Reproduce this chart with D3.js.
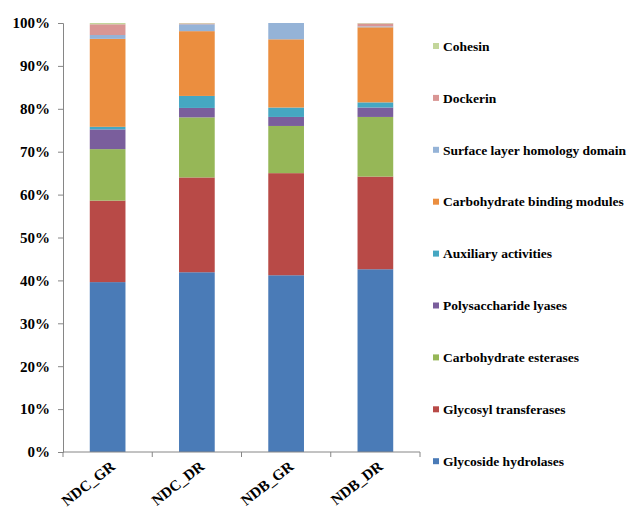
<!DOCTYPE html>
<html>
<head>
<meta charset="utf-8">
<script src="https://cdn.jsdelivr.net/npm/d3@7"></script>
<style>
  body { margin: 0; background: #fff; }
  text { font-family: "Liberation Serif", "Times New Roman", serif; font-weight: bold; fill: #000; }
</style>
</head>
<body>
<div id="chart"></div>
<script>
// Data
const samples = ['NDC_GR', 'NDC_DR', 'NDB_GR', 'NDB_DR']
const families = [
  'Glycoside hydrolases',
  'Glycosyl transferases',
  'Carbohydrate esterases',
  'Polysaccharide lyases',
  'Auxiliary activities',
  'Carbohydrate binding modules',
  'Surface layer homology domain',
  'Dockerin',
  'Cohesin',
]
// percent per family, in sample order
const glycosideHydrolases = [39.6, 41.9, 41.2, 42.6]
const glycosylTransferases = [19.0, 22.1, 23.8, 21.6]
const carbohydrateEsterases = [12.0, 14.0, 11.0, 13.9]
const polysaccharideLyases = [4.6, 2.2, 2.1, 2.2]
const auxiliaryActivities = [0.6, 2.8, 2.2, 1.2]
const carbohydrateBindingModules = [20.5, 15.1, 15.9, 17.5]
const surfaceLayerHomology = [0.9, 1.6, 3.8, 0.2]
const dockerin = [2.5, 0.2, 0.0, 0.7]
const cohesin = [0.3, 0.1, 0.0, 0.1]
const yTicks = [0, 10, 20, 30, 40, 50, 60, 70, 80, 90, 100]

const colors = ['#4A7BB7', '#B84A47', '#96B757', '#7A5E9C', '#45A7C2', '#EB8E3F', '#95B3D7', '#D99694', '#C3D69B']

const seriesValues = [
  glycosideHydrolases, glycosylTransferases, carbohydrateEsterases, polysaccharideLyases,
  auxiliaryActivities, carbohydrateBindingModules, surfaceLayerHomology, dockerin, cohesin,
]
const table = samples.map((s, i) => {
  const row = { sample: s }
  families.forEach((f, j) => { row[f] = seriesValues[j][i] })
  return row
})

// Dimensions
const dimensions = {
  width: 630,
  height: 511,
  margins: { left: 63, top: 23, right: 210, bottom: 59 },
}
const ctrW = dimensions.width - dimensions.margins.left - dimensions.margins.right
const ctrH = dimensions.height - dimensions.margins.top - dimensions.margins.bottom

// Scales
const xScale = d3.scaleBand().domain(samples).range([0, ctrW]).paddingInner(0.6).paddingOuter(0.3)
const yScale = d3.scaleLinear().domain([0, 100]).range([ctrH, 0])
const color = d3.scaleOrdinal().domain(families).range(colors)

const stacked = d3.stack().keys(families)(table)

const svg = d3.select('#chart').append('svg')
  .attr('width', dimensions.width)
  .attr('height', dimensions.height)

const ctr = svg.append('g')
  .attr('transform', `translate(${dimensions.margins.left}, ${dimensions.margins.top})`)

// bars
ctr.selectAll('g.layer')
  .data(stacked)
  .join('g')
  .attr('class', 'layer')
  .attr('fill', (d) => color(d.key))
  .selectAll('rect')
  .data((d) => d)
  .join('rect')
  .attr('x', (d) => xScale(d.data.sample))
  .attr('width', xScale.bandwidth())
  .attr('y', (d) => yScale(d[1]))
  .attr('height', (d) => yScale(d[0]) - yScale(d[1]))

// y axis
const yAxis = d3.axisLeft(yScale).tickValues(yTicks).tickSize(5).tickFormat((d) => d + '%')
const yAxisGroup = ctr.append('g').call(yAxis)
yAxisGroup.select('.domain').attr('stroke', '#868686')
yAxisGroup.selectAll('.tick line').attr('stroke', '#868686')
yAxisGroup.selectAll('.tick text')
  .attr('x', -13)
  .style('font-size', '15px')
  .attr('fill', '#000')

// x axis: ticks sit on the category boundaries
const xAxisGroup = ctr.append('g').attr('transform', `translate(0, ${ctrH})`)
xAxisGroup.append('line')
  .attr('x1', 0).attr('x2', ctrW)
  .attr('stroke', '#868686')
xAxisGroup.selectAll('line.tick')
  .data(d3.range(samples.length + 1))
  .join('line')
  .attr('class', 'tick')
  .attr('x1', (i) => i * ctrW / samples.length)
  .attr('x2', (i) => i * ctrW / samples.length)
  .attr('y2', 5)
  .attr('stroke', '#868686')
xAxisGroup.selectAll('text')
  .data(samples)
  .join('text')
  .attr('transform', (d) => `translate(${xScale(d) + xScale.bandwidth() / 2 + 2}, 8) rotate(-38)`)
  .attr('text-anchor', 'end')
  .attr('dy', '0.7em')
  .style('font-size', '15px')
  .text((d) => d)

// legend
const legend = svg.append('g').attr('transform', 'translate(433, 46)')
const items = legend.selectAll('g')
  .data(families.slice().reverse())
  .join('g')
  .attr('transform', (d, i) => `translate(0, ${i * 51.9})`)
items.append('rect')
  .attr('y', -3)
  .attr('width', 6)
  .attr('height', 6)
  .attr('fill', (d) => color(d))
items.append('text')
  .attr('x', 10)
  .attr('dy', '0.35em')
  .style('font-size', '13.5px')
  .text((d) => d)
</script>
</body>
</html>
